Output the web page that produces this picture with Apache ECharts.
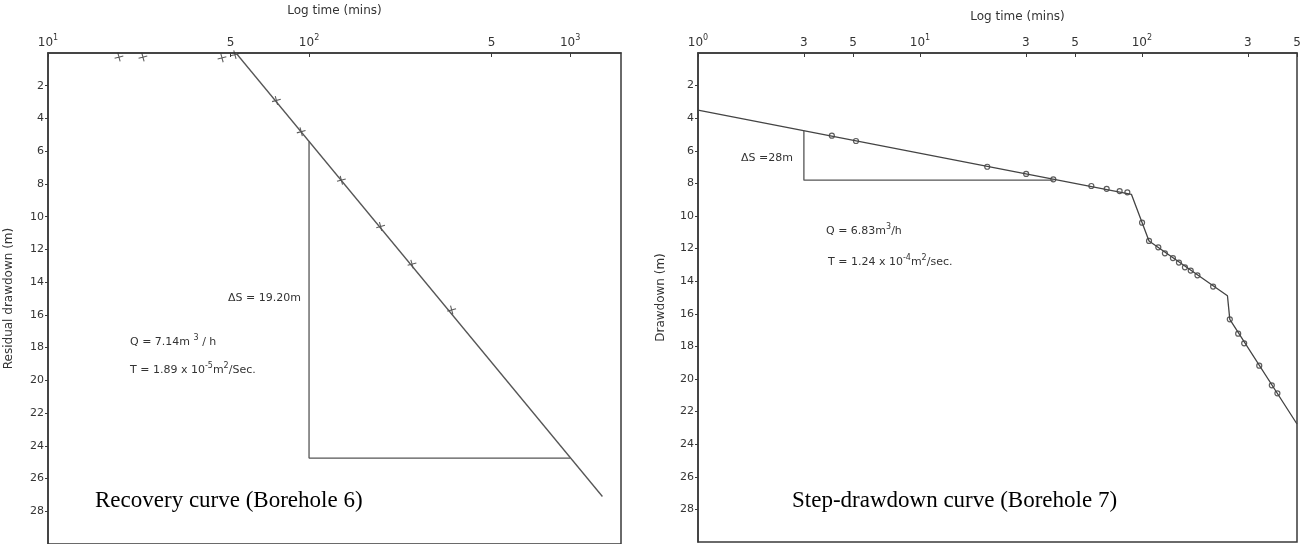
<!DOCTYPE html>
<html><head><meta charset="utf-8">
<script src="https://cdn.jsdelivr.net/npm/echarts@6/dist/echarts.min.js"></script>
<style>html,body{margin:0;padding:0;background:#fff}#c{width:1306px;height:544px}</style>
</head><body><div id="c"></div>
<script>
// ---- Recovery curve (Borehole 6) ----
const recTime     = [18.7, 23.1, 46.4, 52.0, 75.0, 93.3, 133, 188, 248, 352];
const recDrawdown = [0.25, 0.25, 0.3, 0.1, 2.9, 4.81, 7.77, 10.6, 12.9, 15.7];
const recFitTime  = [52.5, 1330];
const recFitS     = [0, 27.1];
const recTriTime  = [100, 100, 1000];
const recTriS     = [5.41, 24.75, 24.75];
const recTicks    = [10, 50, 100, 500, 1000];

// ---- Step-drawdown curve (Borehole 7) ----
const stepTime = [4.01, 5.15, 20.1, 30.1, 39.9, 59.2, 69.4, 79.4, 86.0, 100.2, 107.7, 118.6, 127, 138, 146.9, 156.3, 166, 178, 209.4, 249, 271.6, 289, 338, 385, 408];
const stepDrawdown = [5.07, 5.4, 6.98, 7.42, 7.75, 8.16, 8.33, 8.47, 8.55, 10.41, 11.53, 11.92, 12.29, 12.58, 12.86, 13.15, 13.35, 13.64, 14.33, 16.34, 17.22, 17.81, 19.18, 20.39, 20.88];
const stepFitTime = [1, 89.7, 107.7, 243, 249, 500];
const stepFitS    = [3.5, 8.67, 11.53, 14.89, 16.34, 22.76];
const stepTriTime = [3, 3, 40];
const stepTriS    = [4.77, 7.8, 7.8];
const stepTicks   = [1, 3, 5, 10, 30, 50, 100, 300, 500];

const yTicks = [2,4,6,8,10,12,14,16,18,20,22,24,26,28];

const zip = (a, b) => a.map((v, i) => [v, b[i]]);
const ink = '#3a3a3a';
const txt = '#333';
const FONT = 'DejaVu Sans';

function logLabel(v) {
  const e = Math.round(Math.log10(v));
  if (Math.abs(Math.pow(10, e) - v) < 1e-6) return '{n|10}{s|' + e + '}';
  return '{n|' + String(Math.round(v / Math.pow(10, Math.floor(Math.log10(v) + 1e-9)))) + '}';
}
const richTop = {
  n: {fontSize: 12, fontFamily: FONT, color: txt, lineHeight: 15, verticalAlign: 'bottom'},
  s: {fontSize: 8, fontFamily: FONT, color: txt, lineHeight: 15, verticalAlign: 'top'}
};

function xAx(grid, min, max, ticks, gap, pad) {
  return {
    type: 'log', logBase: 10, gridIndex: grid, position: 'top', min: min, max: max,
    axisLine: {show: true, onZero: false, lineStyle: {color: ink, width: 1.5}},
    axisTick: {show: true, inside: true, length: 4, customValues: ticks, lineStyle: {color: ink, width: 1}},
    axisLabel: {customValues: ticks, formatter: logLabel, rich: richTop, margin: 4, showMinLabel: true, showMaxLabel: true},
    minorTick: {show: false}, splitLine: {show: false},
    name: 'Log time (mins)', nameLocation: 'middle', nameGap: gap,
    nameTextStyle: {fontFamily: FONT, fontSize: 12, color: txt, padding: pad}
  };
}
function yAx(grid, name, gap) {
  return {
    type: 'value', gridIndex: grid, inverse: true, min: 0, max: 30, interval: 2,
    axisLine: {show: true, onZero: false, lineStyle: {color: ink, width: 1.5}},
    axisTick: {show: true, length: 3, customValues: yTicks, lineStyle: {color: ink}},
    axisLabel: {customValues: yTicks, fontFamily: FONT, fontSize: 11, color: txt, margin: 4},
    splitLine: {show: false},
    name: name, nameLocation: 'middle', nameGap: gap, nameRotate: 90,
    nameTextStyle: {fontFamily: FONT, fontSize: 12, color: txt}
  };
}

const plusPath = 'path://M4.4,0h1.2v10h-1.2zM0,4.4h10v1.2h-10z';
const richNote = {
  t: {fontFamily: FONT, fontSize: 11, color: txt, lineHeight: 14, verticalAlign: 'bottom'},
  s: {fontFamily: FONT, fontSize: 8, color: txt, lineHeight: 14, verticalAlign: 'top'}
};
function note(x, y, text) {
  return {type: 'text', left: x, top: y, silent: true,
    style: {text: text, rich: richNote, font: '11px ' + FONT, fill: txt}};
}
function caption(x, y, text) {
  return {type: 'text', left: x, top: y, silent: true,
    style: {text: text, font: '23px "Liberation Serif"', fill: '#000'}};
}

const chart = echarts.init(document.getElementById('c'), null, {renderer: 'canvas'});
chart.setOption({
  backgroundColor: '#fff',
  animation: false,
  grid: [
    {left: 48, top: 52, width: 573, height: 497, show: true, borderColor: ink, borderWidth: 1.5, backgroundColor: 'transparent'},
    {left: 698, top: 53, width: 599, height: 489, show: true, borderColor: ink, borderWidth: 1.5, backgroundColor: 'transparent'}
  ],
  xAxis: [xAx(0, 10, 1567, recTicks, 36, [0, 0, 0, 0]), xAx(1, 1, 500, stepTicks, 30, [0, 0, 0, 40])],
  yAxis: [yAx(0, 'Residual drawdown (m)', 33), yAx(1, 'Drawdown (m)', 31)],
  series: [
    {type: 'line', xAxisIndex: 0, yAxisIndex: 0, data: zip(recFitTime, recFitS), showSymbol: false,
      lineStyle: {color: '#555', width: 1.3}, silent: true},
    {type: 'line', xAxisIndex: 0, yAxisIndex: 0, data: zip(recTriTime, recTriS), showSymbol: false,
      lineStyle: {color: '#555', width: 1.3}, silent: true},
    {type: 'scatter', xAxisIndex: 0, yAxisIndex: 0, data: zip(recTime, recDrawdown), symbol: plusPath,
      symbolSize: 9, symbolRotate: 15, itemStyle: {color: '#333'}},
    {type: 'line', xAxisIndex: 1, yAxisIndex: 1, data: zip(stepFitTime, stepFitS), showSymbol: false,
      lineStyle: {color: '#444', width: 1.3}, silent: true},
    {type: 'line', xAxisIndex: 1, yAxisIndex: 1, data: zip(stepTriTime, stepTriS), showSymbol: false,
      lineStyle: {color: '#555', width: 1.3}, silent: true},
    {type: 'scatter', xAxisIndex: 1, yAxisIndex: 1, data: zip(stepTime, stepDrawdown), symbol: 'circle',
      symbolSize: 5, itemStyle: {color: '#fff', borderColor: '#333', borderWidth: 1.2}}
  ],
  graphic: [
    note(228, 293, '{t|\u0394S = 19.20m}'),
    note(130, 334, '{t|Q = 7.14m }{s|3}{t| / h}'),
    note(130, 362, '{t|T = 1.89 x 10}{s|-5}{t|m}{s|2}{t|/Sec.}'),
    caption(95, 489, 'Recovery curve (Borehole 6)'),
    note(741, 153, '{t|\u0394S =28m}'),
    note(826, 223, '{t|Q = 6.83m}{s|3}{t|/h}'),
    note(828, 254, '{t|T = 1.24 x 10}{s|-4}{t|m}{s|2}{t|/sec.}'),
    caption(792, 489, 'Step-drawdown curve (Borehole 7)')
  ]
});
</script></body></html>
